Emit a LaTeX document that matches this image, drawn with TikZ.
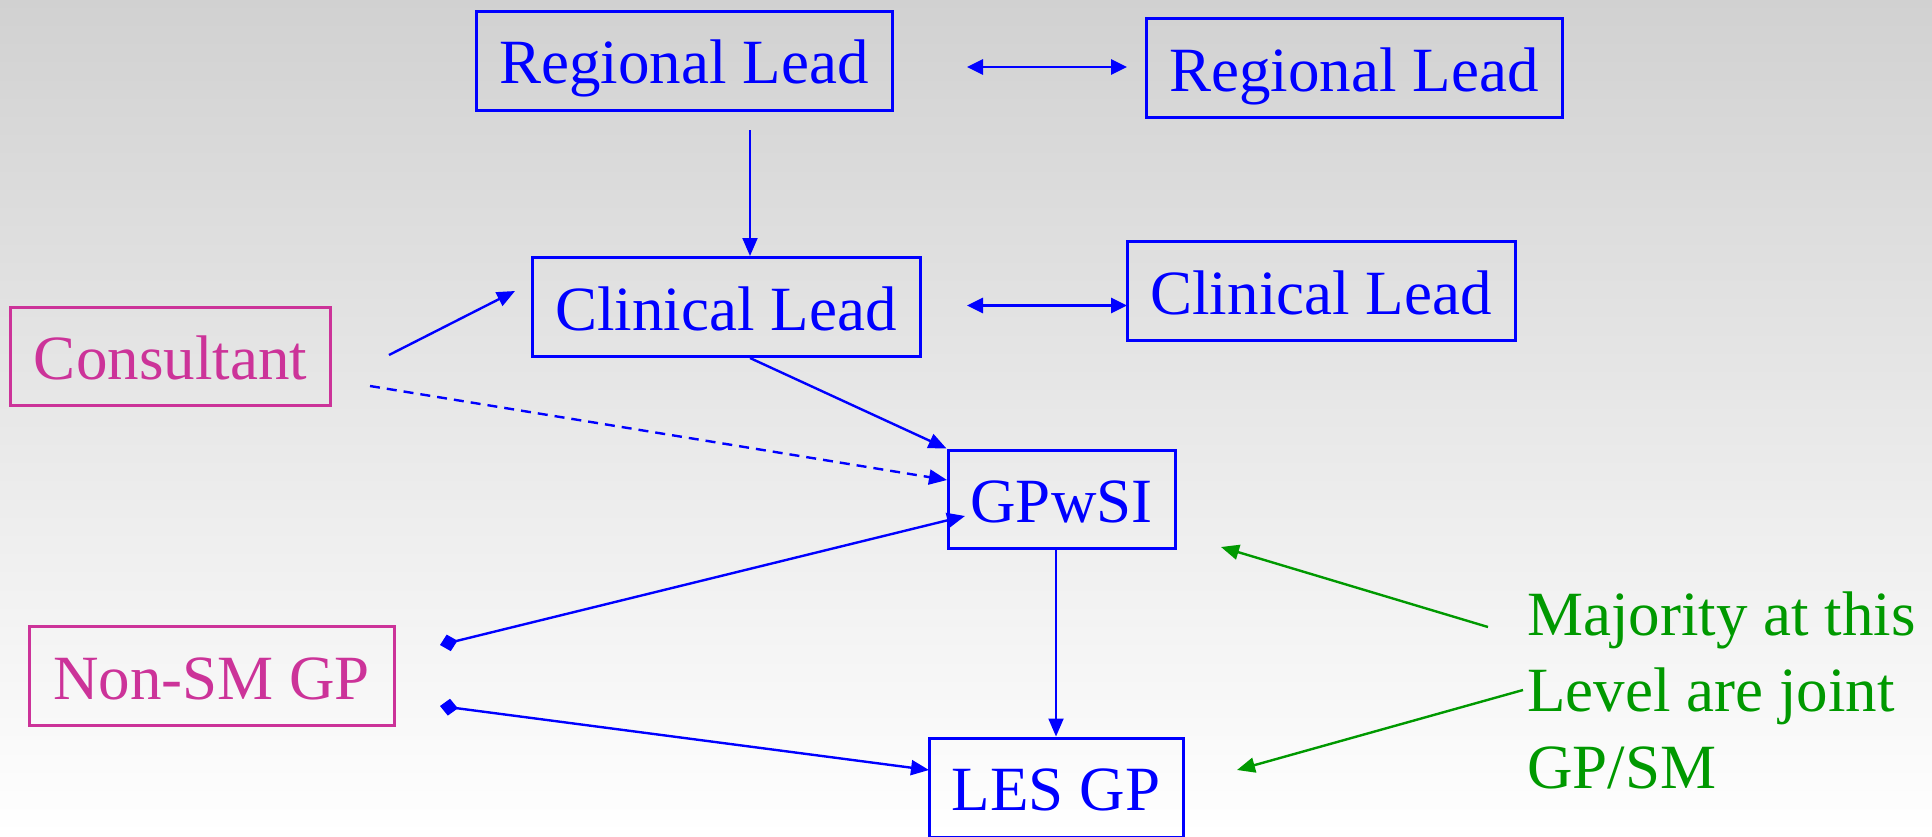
\documentclass[tikz,border=0pt]{standalone}
\usepackage{fontspec}
\setmainfont{Liberation Serif}
\usetikzlibrary{arrows.meta,calc}
\definecolor{bl}{RGB}{0,0,255}
\definecolor{mg}{RGB}{204,51,153}
\definecolor{gn}{RGB}{0,153,0}
\begin{document}
\begin{tikzpicture}[x=1pt,y=-1pt,
  box/.style={draw, line width=3pt, inner sep=0pt, text height=46pt, text depth=0pt, font=\fontsize{63}{76}\selectfont},
  bluebox/.style={box, draw=bl, text=bl},
  magbox/.style={box, draw=mg, text=mg},
  arr/.style={draw=bl, line width=2.4pt, -{Triangle[length=18pt,width=15pt]}},
  arrthin/.style={draw=bl, line width=2pt, -{Triangle[length=18pt,width=15pt]}},
  dbl/.style={draw=bl, line width=2.8pt, {Triangle[length=16pt,width=15pt]}-{Triangle[length=16pt,width=15pt]}},
  diarr/.style={draw=bl, line width=2.4pt, {Diamond[length=18pt,width=17pt]}-{Triangle[length=18pt,width=15pt]}},
  garr/.style={draw=gn, line width=2.4pt, -{Triangle[length=18pt,width=15pt]}},
  dashline/.style={arr, dash pattern=on 10pt off 7pt}
]
\shade[top color=black!18, bottom color=white] (0,0) rectangle (1932,836);
\useasboundingbox (0,0) rectangle (1932,836);

\node[bluebox, minimum width=416pt, minimum height=99pt] (rl1) at (684,60.5) {Regional Lead};
\node[bluebox, minimum width=416pt, minimum height=99pt] (rl2) at (1354,68) {Regional Lead};
\node[bluebox, minimum width=388pt, minimum height=99pt] (cl1) at (726,307) {Clinical Lead};
\node[bluebox, minimum width=388pt, minimum height=99pt] (cl2) at (1321,291) {Clinical Lead};
\node[magbox, minimum width=320pt, minimum height=98pt] (cons) at (170.5,356) {Consultant};
\node[bluebox, minimum width=227pt, minimum height=98pt] (gp) at (1061.5,499) {GPwSI};
\node[magbox, minimum width=365pt, minimum height=99pt] (nsm) at (211.5,676) {Non-SM GP};
\node[bluebox, minimum width=254pt, minimum height=99pt] (les) at (1056,787.5) {LES GP};
\node[text=gn, anchor=base west, align=left, inner sep=0pt, font=\fontsize{63}{76.5}\selectfont] (note) at (1527,788) {Majority at this\\Level are joint\\GP/SM};

\coordinate (rla) at (967,67); \coordinate (rlb) at (1127,67);
\coordinate (cla) at (967,305.5); \coordinate (clb) at (1127,305.5);
\coordinate (v1) at (750,130);
\coordinate (c1) at (389,355); \coordinate (c2) at (515,291);
\coordinate (d1) at (370,386); \coordinate (d2) at (947,480);
\coordinate (n1) at (440,645); \coordinate (n1t) at (965,516);
\coordinate (n2) at (440,706); \coordinate (n2t) at (929,770);
\coordinate (g1) at (1488,627); \coordinate (g1t) at (1221,547);
\coordinate (g2) at (1523,690); \coordinate (g2t) at (1237,770);

\draw[dbl] (rla) -- (rlb);
\draw[dbl] (cla) -- (clb);
\draw[arrthin] (v1) -- (v1 |- cl1.north);
\draw[arr] (c1) -- (c2);
\draw[dashline] (d1) -- (d2);
\draw[arr] (cl1.south -| v1) -- (gp.north west);
\draw[diarr] (n1) -- (n1t);
\draw[diarr] (n2) -- (n2t);
\draw[arrthin] (les.north |- gp.south) -- (les.north);
\draw[garr] (g1) -- (g1t);
\draw[garr] (g2) -- (g2t);
\end{tikzpicture}
\end{document}
